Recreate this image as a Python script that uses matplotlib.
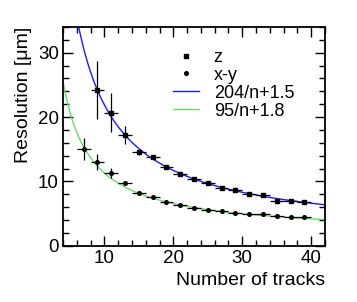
import numpy as np
import matplotlib
matplotlib.use("Agg")
import matplotlib.pyplot as plt
from matplotlib.ticker import MultipleLocator
from matplotlib.lines import Line2D

plt.rcParams['font.family'] = ['Liberation Sans', 'DejaVu Sans']

# data
n_tracks = [7, 9, 11, 13, 15, 17, 19, 21, 23, 25, 27, 29, 31, 33, 35, 37, 39]
z_x = n_tracks[1:]
z_res = [24.2, 20.7, 17.2, 14.55, 13.75, 12.3, 11.1, 10.3, 9.7, 9.0, 8.6, 8.1, 7.9, 6.95, 7.0, 6.75]
z_err = [4.5, 3.1, 1.4, 0.4, 0.3, 0.25, 0.2, 0.2, 0.2, 0.2, 0.2, 0.2, 0.2, 0.2, 0.2, 0.2]
xy_res = [15.0, 13.0, 11.35, 9.8, 8.25, 7.6, 6.85, 6.33, 5.88, 5.6, 5.35, 5.13, 4.88, 4.88, 4.57, 4.46, 4.41]
xy_err = [1.7, 1.2, 0.8, 0.2, 0.2, 0.15, 0.15, 0.15, 0.15, 0.1, 0.1, 0.1, 0.1, 0.1, 0.1, 0.1, 0.1]
bin_half = 1.0
fit_z = (204, 1.5)
fit_xy = (95, 1.8)
labels = ["z", "x-y", "204/n+1.5", "95/n+1.8"]

fig = plt.figure(figsize=(3.57, 3.02), dpi=100)
ax = fig.add_axes([63/357, 1 - 245.7/302, (325-63)/357, (245.7-27)/302])

n = np.linspace(4, 42, 400)
ax.plot(n, fit_z[0]/n + fit_z[1], color='#1a1aff', lw=1.0, zorder=2)
ax.plot(n, fit_xy[0]/n + fit_xy[1], color='#6cd86c', lw=1.0, zorder=2)

ax.errorbar(z_x, z_res, yerr=z_err, xerr=bin_half, fmt='s', ms=2.4, color='black',
            ecolor='black', elinewidth=0.9, capsize=0, zorder=3)
ax.errorbar(n_tracks, xy_res, yerr=xy_err, xerr=bin_half, fmt='o', ms=2.6, color='black',
            ecolor='black', elinewidth=0.9, capsize=0, zorder=3)

ax.set_xlim(4, 42)
ax.set_ylim(0, 34)
ax.xaxis.set_major_locator(MultipleLocator(10))
ax.xaxis.set_minor_locator(MultipleLocator(2))
ax.yaxis.set_major_locator(MultipleLocator(10))
ax.yaxis.set_minor_locator(MultipleLocator(2))
ax.tick_params(which='both', direction='in', top=True, right=True, width=1.0, labelsize=13.5, pad=3)
ax.tick_params(which='major', length=7)
ax.tick_params(which='minor', length=4)
for s in ax.spines.values():
    s.set_linewidth(1.3)

ax.set_xlabel("Number of tracks", fontsize=14, loc='right', labelpad=4)
ax.set_ylabel("Resolution [μm]", fontsize=14, loc='top', labelpad=4)

h = [Line2D([], [], marker='s', ms=2.4, color='black', ls='none'),
     Line2D([], [], marker='o', ms=2.6, color='black', ls='none'),
     Line2D([], [], color='#1a1aff', lw=1.0),
     Line2D([], [], color='#6cd86c', lw=1.0)]
ax.legend(h, labels, loc='upper left', bbox_to_anchor=(0.42, 0.90), frameon=False,
          fontsize=13, handlelength=1.45, handletextpad=0.8, labelspacing=0.05,
          borderaxespad=0, borderpad=0)

fig.savefig("out.png", dpi=100)
